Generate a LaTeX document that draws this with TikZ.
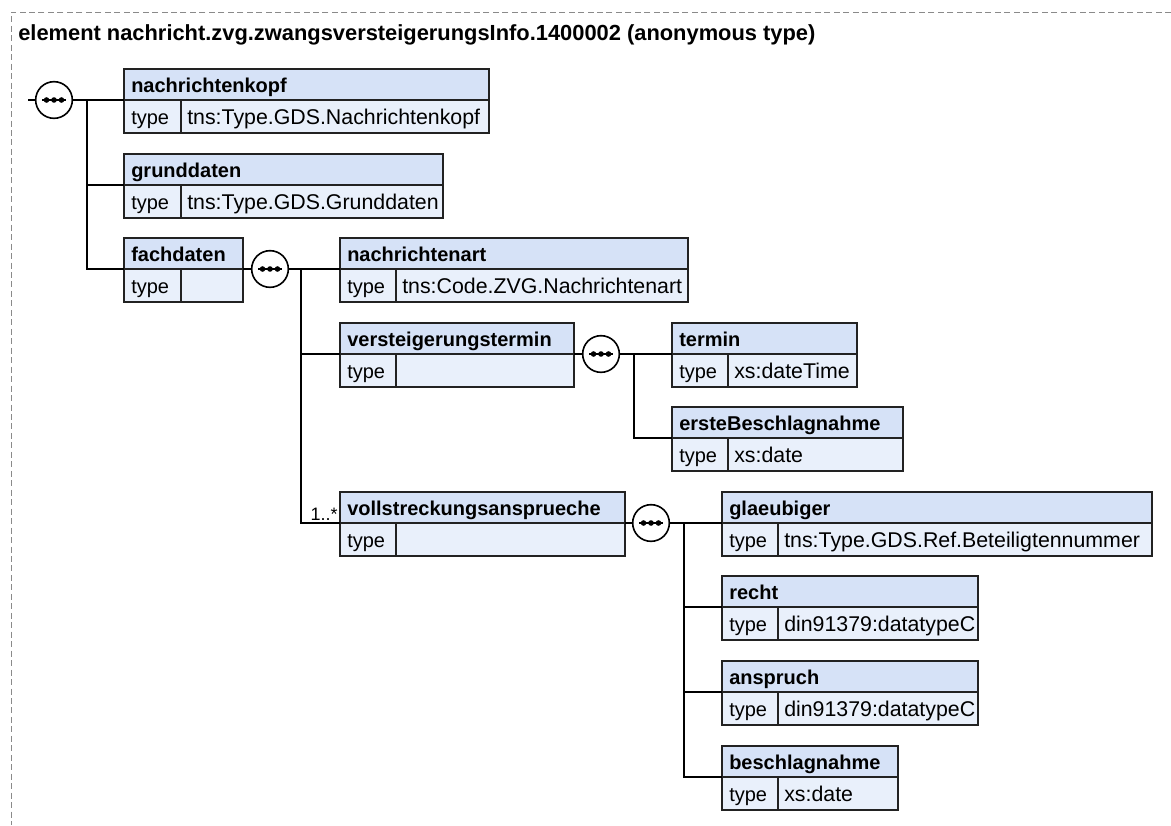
\documentclass[tikz,border=0pt]{standalone}
\usepackage{fontspec}
\setmainfont{Liberation Sans}
\definecolor{hdrfill}{HTML}{D6E2F7}
\definecolor{typfill}{HTML}{E9F0FB}
\definecolor{boxline}{HTML}{222222}
\definecolor{framegray}{HTML}{8A8A8A}
\tikzset{
  cell/.style={draw=boxline, line width=1.2pt, rectangle, inner sep=0pt, outer sep=0pt, anchor=north west},
  hdrcell/.style={cell, fill=hdrfill},
  typcell/.style={cell, fill=typfill},
  eltitle/.style={font=\fontsize{15}{18}\selectfont\bfseries, inner sep=0pt, anchor=base west},
  elkey/.style={font=\fontsize{15}{18}\selectfont, inner sep=0pt, anchor=base west},
  eltext/.style={font=\fontsize{16}{19}\selectfont, inner sep=0pt, anchor=base west},
  conn/.style={draw=black, line width=1.2pt},
  compo/.style={circle, draw=black, fill=white, line width=1.2pt, minimum size=27.5pt, inner sep=0pt, outer sep=0pt},
  frame/.style={draw=framegray, line width=0.7pt, dash pattern=on 4.5pt off 2.6pt},
}
% #1 name, #2 left, #3 top, #4 right, #5 divider, #6 title, #7 type value
\newcommand{\elem}[7]{%
  \node[hdrcell, minimum width={(#4-#2)*0.75pt}, minimum height={31*0.75pt}] (#1) at (#2,#3) {};
  \node[typcell, minimum width={(#5-#2)*0.75pt}, minimum height={33*0.75pt}] (#1-k) at (#1.south west) {};
  \node[typcell, minimum width={(#4-#5)*0.75pt}, minimum height={33*0.75pt}] (#1-v) at (#1-k.north east) {};
  \node[eltitle] (#1-tt) at (#2+7,#3+23) {#6};
  \node[elkey] (#1-kt) at (#2+7,#3+55) {type};
  \node[eltext] (#1-vt) at (#5+6,#3+55) {#7};
}
\newcommand{\comp}[3]{%
  \node[compo] (#1) at (#2,#3) {};
  \draw[line width=1.1pt] ([xshift=-9pt]#1.center) -- ([xshift=9pt]#1.center);
  \fill ([xshift=-5.6pt]#1.center) circle (2.1pt);
  \fill (#1.center) circle (2.1pt);
  \fill ([xshift=5.6pt]#1.center) circle (2.1pt);
}
\begin{document}
\begin{tikzpicture}[x=0.75pt,y=-0.75pt]
\useasboundingbox (0,0) rectangle (1171,825);
\draw[frame] (1171,12) -- (11,12) -- (11,825);
\node[font=\fontsize{16.4}{19}\selectfont\bfseries, inner sep=0pt, anchor=base west] (title) at (18,40)
  {element nachricht.zvg.zwangsversteigerungsInfo.1400002 (anonymous type)};

% free ends and junctions
\coordinate (s1) at (28,100);
\coordinate (j1) at (87,100);
\coordinate (j2) at (301,269);
\coordinate (j3) at (634,354);
\coordinate (j4) at (684,523);

% elements
\elem{nk}{124}{69}{489}{181}{nachrichtenkopf}{tns:Type.GDS.Nachrichtenkopf}
\elem{gd}{124}{154}{443}{181}{grunddaten}{tns:Type.GDS.Grunddaten}
\elem{fd}{124}{238}{243}{181}{fachdaten}{}
\elem{na}{340}{238}{688}{396}{nachrichtenart}{tns:Code.ZVG.Nachrichtenart}
\elem{vt}{340}{323}{574}{396}{versteigerungstermin}{}
\elem{te}{672}{323}{857}{728}{termin}{xs:dateTime}
\elem{eb}{672}{407}{903}{728}{ersteBeschlagnahme}{xs:date}
\elem{vs}{340}{492}{625}{396}{vollstreckungsansprueche}{}
\elem{gl}{722}{492}{1152}{778}{glaeubiger}{tns:Type.GDS.Ref.Beteiligtennummer}
\elem{re}{722}{576}{978}{778}{recht}{din91379:datatypeC}
\elem{an}{722}{661}{978}{778}{anspruch}{din91379:datatypeC}
\elem{be}{722}{746}{898}{778}{beschlagnahme}{xs:date}

\comp{c1}{54}{100}
\comp{c2}{270}{269}
\comp{c3}{601}{354}
\comp{c4}{651}{523}

\draw[conn] (s1) -- (c1.west);
\draw[conn] (c1.east) -- (nk.south west);
\draw[conn] (j1) |- (gd.south west);
\draw[conn] (j1) |- (fd.south west);
\draw[conn] (fd.south east) -- (c2.west);
\draw[conn] (c2.east) -- (na.south west);
\draw[conn] (j2) |- (vt.south west);
\draw[conn] (j2) |- (vs.south west);
\draw[conn] (vt.south east) -- (c3.west);
\draw[conn] (c3.east) -- (te.south west);
\draw[conn] (j3) |- (eb.south west);
\draw[conn] (vs.south east) -- (c4.west);
\draw[conn] (c4.east) -- (gl.south west);
\draw[conn] (j4) |- (re.south west);
\draw[conn] (j4) |- (an.south west);
\draw[conn] (j4) |- (be.south west);

\node[font=\fontsize{13.5}{16}\selectfont, inner sep=0pt, anchor=base east] (card) at (338,520) {1..*};
\end{tikzpicture}
\end{document}
